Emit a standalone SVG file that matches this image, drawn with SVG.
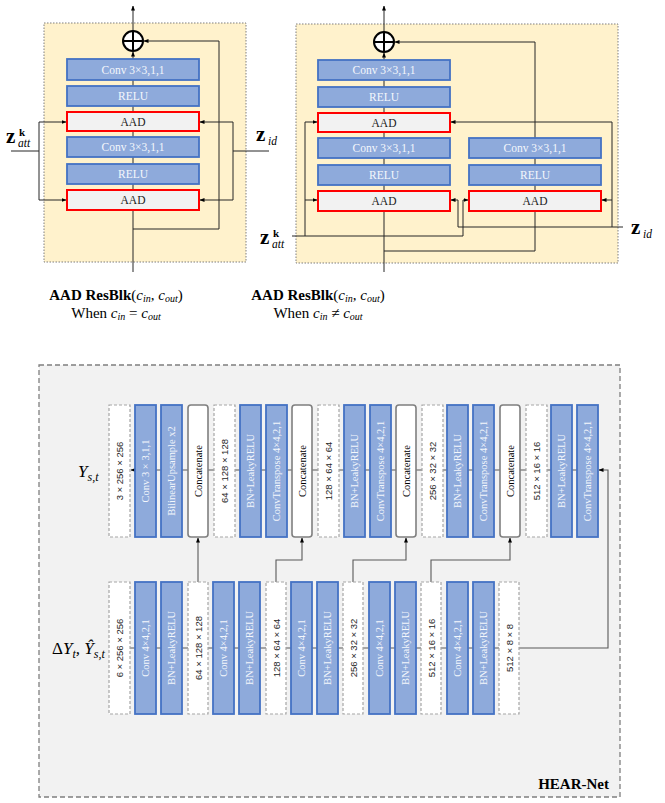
<svg xmlns="http://www.w3.org/2000/svg" width="665" height="803" viewBox="0 0 665 803">
<defs>
<marker id="ah" viewBox="0 0 10 10" refX="9" refY="5" markerWidth="5" markerHeight="5" markerUnits="userSpaceOnUse" orient="auto"><path d="M0,1 L10,5 L0,9 Z" fill="#000"/></marker>
<style>
.yb{fill:#fff2cc;stroke:#7f7f7f;stroke-width:1;stroke-dasharray:1.5,1.5}
.bl{fill:#8eaadb;stroke:#4472c4;stroke-width:1.8}
.aad{fill:#f2f2f2;stroke:#ff0000;stroke-width:2}
.ln{fill:none;stroke:#262626;stroke-width:1}
.lg{fill:none;stroke:#595959;stroke-width:1.1}
.arr{marker-end:url(#ah)}
.tw{font-family:"Liberation Serif",serif;font-size:11.5px;fill:#f4f7fc;text-anchor:middle;dominant-baseline:central}
.tk{font-family:"Liberation Serif",serif;font-size:11.5px;fill:#1a1a1a;text-anchor:middle;dominant-baseline:central}
.dm{font-family:"Liberation Sans",sans-serif;font-size:9.5px;fill:#262626;text-anchor:middle;dominant-baseline:central}
.vw{font-family:"Liberation Serif",serif;font-size:10.5px;fill:#f4f7fc;text-anchor:middle;dominant-baseline:central}
.vk{font-family:"Liberation Serif",serif;font-size:10.5px;fill:#000;text-anchor:middle;dominant-baseline:central}
.ds{fill:#fff;stroke:#a6a6a6;stroke-width:1.2;stroke-dasharray:3,2}
.cc{fill:#fff;stroke:#7f7f7f;stroke-width:1.6}
.cap{font-family:"Liberation Serif",serif;font-size:15px;fill:#000}
.it{font-style:italic}
.zb{font-family:"Liberation Serif",serif;font-weight:bold;fill:#000}
.mi{font-family:"Liberation Serif",serif;font-style:italic;fill:#000}
</style>
</defs>

<!-- ===== Top-left block ===== -->
<g id="blockA">
<rect class="yb" x="44" y="23" width="202" height="239"/>
</g>
<g id="connectorsA">
<path class="ln arr" d="M133,272 L133,52"/>
<path class="ln arr" d="M133,31 L133,6"/>
<path class="ln arr" d="M133,229 L219,229 L219,41 L144,41"/>
<path class="ln" d="M11,151 L39,151 M39,122 L39,200"/>
<path class="ln arr" d="M39,122 L66,122"/>
<path class="ln arr" d="M39,200 L66,200"/>
<path class="ln" d="M269,151 L233,151 M233,122 L233,200"/>
<path class="ln arr" d="M233,122 L200,122"/>
<path class="ln arr" d="M233,200 L200,200"/>
</g>
<g id="sumA">
<circle cx="133" cy="41" r="10" fill="#fff" stroke="#000" stroke-width="2"/>
<path d="M123,41 L143,41 M133,31 L133,51" stroke="#000" stroke-width="2"/>
</g>
<g id="A_conv1"><rect class="bl" x="67" y="59" width="132" height="21"/><text class="tw" x="133" y="70">Conv 3×3,1,1</text></g>
<g id="A_relu1"><rect class="bl" x="67" y="86" width="132" height="20"/><text class="tw" x="133" y="96">RELU</text></g>
<g id="A_aad1"><rect class="aad" x="67" y="112" width="132" height="19"/><text class="tk" x="133" y="122">AAD</text></g>
<g id="A_conv2"><rect class="bl" x="67" y="137" width="132" height="20"/><text class="tw" x="133" y="147">Conv 3×3,1,1</text></g>
<g id="A_relu2"><rect class="bl" x="67" y="164" width="132" height="20"/><text class="tw" x="133" y="174">RELU</text></g>
<g id="A_aad2"><rect class="aad" x="67" y="190" width="132" height="20"/><text class="tk" x="133" y="200">AAD</text></g>
<g id="A_labels">
<text class="zb" x="6" y="143" font-size="21">z</text>
<text class="zb" x="19" y="136" font-size="11">k</text>
<text class="mi" x="18" y="147" font-size="11.5">att</text>
<text class="zb" x="256" y="141" font-size="21">z</text>
<text class="mi" x="268" y="145" font-size="11.5">id</text>
</g>
<g id="captionA">
<text class="cap" x="116" y="300" text-anchor="middle"><tspan font-weight="bold">AAD ResBlk</tspan>(<tspan class="it">c</tspan><tspan class="it" font-size="10" dy="2">in</tspan><tspan dy="-2">, </tspan><tspan class="it">c</tspan><tspan class="it" font-size="10" dy="2">out</tspan><tspan dy="-2">)</tspan></text>
<text class="cap" x="116" y="318" text-anchor="middle">When <tspan class="it">c</tspan><tspan class="it" font-size="10" dy="2">in</tspan><tspan dy="-2"> = </tspan><tspan class="it">c</tspan><tspan class="it" font-size="10" dy="2">out</tspan></text>
</g>

<!-- ===== Top-right block ===== -->
<g id="blockB">
<rect class="yb" x="296" y="24" width="322" height="239"/>
</g>
<g id="connectorsB">
<path class="ln arr" d="M384,272 L384,53"/>
<path class="ln arr" d="M384,32 L384,6"/>
<path class="ln arr" d="M384,251 L535,251 L535,42 L395,42"/>
<path class="ln" d="M292,236 L463,236 L463,200 M305,236 L305,122"/>
<path class="ln arr" d="M305,122 L317,122"/>
<path class="ln arr" d="M305,200 L317,200"/>
<path class="ln arr" d="M463,200 L468,200"/>
<path class="ln" d="M623,227 L458,227 L458,200 M612,227 L612,122"/>
<path class="ln arr" d="M458,200 L451,200"/>
<path class="ln arr" d="M612,122 L451,122"/>
<path class="ln arr" d="M612,200 L602,200"/>
</g>
<g id="sumB">
<circle cx="384" cy="42" r="10" fill="#fff" stroke="#000" stroke-width="2"/>
<path d="M374,42 L394,42 M384,32 L384,52" stroke="#000" stroke-width="2"/>
</g>
<g id="B_conv1"><rect class="bl" x="318" y="60" width="132" height="20"/><text class="tw" x="384" y="70">Conv 3×3,1,1</text></g>
<g id="B_relu1"><rect class="bl" x="318" y="87" width="132" height="20"/><text class="tw" x="384" y="97">RELU</text></g>
<g id="B_aad1"><rect class="aad" x="318" y="113" width="132" height="19"/><text class="tk" x="384" y="123">AAD</text></g>
<g id="B_conv2"><rect class="bl" x="318" y="138" width="132" height="20"/><text class="tw" x="384" y="148">Conv 3×3,1,1</text></g>
<g id="B_relu2"><rect class="bl" x="318" y="165" width="132" height="20"/><text class="tw" x="384" y="175">RELU</text></g>
<g id="B_aad2"><rect class="aad" x="318" y="191" width="132" height="20"/><text class="tk" x="384" y="201">AAD</text></g>
<g id="B_conv3"><rect class="bl" x="469" y="138" width="132" height="20"/><text class="tw" x="535" y="148">Conv 3×3,1,1</text></g>
<g id="B_relu3"><rect class="bl" x="469" y="165" width="132" height="20"/><text class="tw" x="535" y="175">RELU</text></g>
<g id="B_aad3"><rect class="aad" x="469" y="191" width="132" height="20"/><text class="tk" x="535" y="201">AAD</text></g>
<g id="B_labels">
<text class="zb" x="260" y="244" font-size="21">z</text>
<text class="zb" x="273" y="237" font-size="11">k</text>
<text class="mi" x="272" y="248" font-size="11.5">att</text>
<text class="zb" x="631" y="234" font-size="21">z</text>
<text class="mi" x="643" y="238" font-size="11.5">id</text>
</g>
<g id="captionB">
<text class="cap" x="318" y="300" text-anchor="middle"><tspan font-weight="bold">AAD ResBlk</tspan>(<tspan class="it">c</tspan><tspan class="it" font-size="10" dy="2">in</tspan><tspan dy="-2">, </tspan><tspan class="it">c</tspan><tspan class="it" font-size="10" dy="2">out</tspan><tspan dy="-2">)</tspan></text>
<text class="cap" x="318" y="318" text-anchor="middle">When <tspan class="it">c</tspan><tspan class="it" font-size="10" dy="2">in</tspan><tspan dy="-2"> ≠ </tspan><tspan class="it">c</tspan><tspan class="it" font-size="10" dy="2">out</tspan></text>
</g>

<!-- ===== HEAR-Net ===== -->
<g id="hearnet_panel">
<rect x="39" y="365" width="581" height="432" fill="#f2f2f2" stroke="#7f7f7f" stroke-width="1.3" stroke-dasharray="5,3"/>
<text x="609" y="789" font-family="Liberation Serif, serif" font-weight="bold" font-size="15" text-anchor="end" fill="#000">HEAR-Net</text>
</g>
<g id="connectorsC">
<path class="lg arr" d="M577,470 L131,470"/>
<path class="lg arr" d="M519,648 L608,648 L608,470 L599,470"/>
<path class="lg" d="M130,648 L499,648"/>
<path class="lg arr" d="M198,582 L198,538"/>
<path class="lg arr" d="M276,582 L276,560 L302,560 L302,538"/>
<path class="lg arr" d="M353,582 L353,560 L406,560 L406,538"/>
<path class="lg arr" d="M431,582 L431,560 L510,560 L510,538"/>
</g>
<g id="labelsC">
<text class="mi" x="78" y="477" font-size="17">Y<tspan font-size="12" dy="4">s,t</tspan></text>
<text class="mi" x="52" y="654" font-size="17"><tspan font-style="normal">Δ</tspan>Y<tspan font-size="12" dy="4">t</tspan><tspan dy="-4">, Ŷ</tspan><tspan font-size="12" dy="4">s,t</tspan></text>
</g>

<!-- top row -->
<g id="u0"><rect class="ds" x="109" y="405" width="21" height="132"/><text class="dm" transform="rotate(-90 119.5 471)" x="119.5" y="471">3 × 256 × 256</text></g>
<g id="u1"><rect class="bl" x="135" y="405" width="21" height="132"/><text class="vw" transform="rotate(-90 145.5 471)" x="145.5" y="471">Conv 3 × 3,1,1</text></g>
<g id="u2"><rect class="bl" x="161" y="405" width="21" height="132"/><text class="vw" transform="rotate(-90 171.5 471)" x="171.5" y="471">BilinearUpsample x2</text></g>
<g id="u3"><rect class="cc" x="188" y="405" width="20" height="132" rx="3"/><text class="vk" transform="rotate(-90 198 471)" x="198" y="471">Concatenate</text></g>
<g id="u4"><rect class="ds" x="214" y="405" width="21" height="132"/><text class="dm" transform="rotate(-90 224.5 471)" x="224.5" y="471">64 × 128 × 128</text></g>
<g id="u5"><rect class="bl" x="240" y="405" width="21" height="132"/><text class="vw" transform="rotate(-90 250.5 471)" x="250.5" y="471">BN+LeakyRELU</text></g>
<g id="u6"><rect class="bl" x="266" y="405" width="21" height="132"/><text class="vw" transform="rotate(-90 276.5 471)" x="276.5" y="471">ConvTranspose 4×4,2,1</text></g>
<g id="u7"><rect class="cc" x="292" y="405" width="20" height="132" rx="3"/><text class="vk" transform="rotate(-90 302 471)" x="302" y="471">Concatenate</text></g>
<g id="u8"><rect class="ds" x="318" y="405" width="21" height="132"/><text class="dm" transform="rotate(-90 328.5 471)" x="328.5" y="471">128 × 64 × 64</text></g>
<g id="u9"><rect class="bl" x="344" y="405" width="21" height="132"/><text class="vw" transform="rotate(-90 354.5 471)" x="354.5" y="471">BN+LeakyRELU</text></g>
<g id="u10"><rect class="bl" x="370" y="405" width="21" height="132"/><text class="vw" transform="rotate(-90 380.5 471)" x="380.5" y="471">ConvTranspose 4×4,2,1</text></g>
<g id="u11"><rect class="cc" x="396" y="405" width="20" height="132" rx="3"/><text class="vk" transform="rotate(-90 406 471)" x="406" y="471">Concatenate</text></g>
<g id="u12"><rect class="ds" x="422" y="405" width="21" height="132"/><text class="dm" transform="rotate(-90 432.5 471)" x="432.5" y="471">256 × 32 × 32</text></g>
<g id="u13"><rect class="bl" x="447" y="405" width="21" height="132"/><text class="vw" transform="rotate(-90 457.5 471)" x="457.5" y="471">BN+LeakyRELU</text></g>
<g id="u14"><rect class="bl" x="473" y="405" width="21" height="132"/><text class="vw" transform="rotate(-90 483.5 471)" x="483.5" y="471">ConvTranspose 4×4,2,1</text></g>
<g id="u15"><rect class="cc" x="500" y="405" width="20" height="132" rx="3"/><text class="vk" transform="rotate(-90 510 471)" x="510" y="471">Concatenate</text></g>
<g id="u16"><rect class="ds" x="526" y="405" width="21" height="132"/><text class="dm" transform="rotate(-90 536.5 471)" x="536.5" y="471">512 × 16 × 16</text></g>
<g id="u17"><rect class="bl" x="551" y="405" width="21" height="132"/><text class="vw" transform="rotate(-90 561.5 471)" x="561.5" y="471">BN+LeakyRELU</text></g>
<g id="u18"><rect class="bl" x="577" y="405" width="21" height="132"/><text class="vw" transform="rotate(-90 587.5 471)" x="587.5" y="471">ConvTranspose 4×4,2,1</text></g>

<!-- bottom row -->
<g id="d0"><rect class="ds" x="109" y="582" width="21" height="132"/><text class="dm" transform="rotate(-90 119.5 648)" x="119.5" y="648">6 × 256 × 256</text></g>
<g id="d1"><rect class="bl" x="135" y="582" width="21" height="132"/><text class="vw" transform="rotate(-90 145.5 648)" x="145.5" y="648">Conv 4×4,2,1</text></g>
<g id="d2"><rect class="bl" x="161" y="582" width="21" height="132"/><text class="vw" transform="rotate(-90 171.5 648)" x="171.5" y="648">BN+LeakyRELU</text></g>
<g id="d3"><rect class="ds" x="188" y="582" width="20" height="132"/><text class="dm" transform="rotate(-90 198 648)" x="198" y="648">64 × 128 × 128</text></g>
<g id="d4"><rect class="bl" x="213" y="582" width="21" height="132"/><text class="vw" transform="rotate(-90 223.5 648)" x="223.5" y="648">Conv 4×4,2,1</text></g>
<g id="d5"><rect class="bl" x="239" y="582" width="21" height="132"/><text class="vw" transform="rotate(-90 249.5 648)" x="249.5" y="648">BN+LeakyRELU</text></g>
<g id="d6"><rect class="ds" x="266" y="582" width="20" height="132"/><text class="dm" transform="rotate(-90 276 648)" x="276" y="648">128 × 64 × 64</text></g>
<g id="d7"><rect class="bl" x="291" y="582" width="21" height="132"/><text class="vw" transform="rotate(-90 301.5 648)" x="301.5" y="648">Conv 4×4,2,1</text></g>
<g id="d8"><rect class="bl" x="317" y="582" width="21" height="132"/><text class="vw" transform="rotate(-90 327.5 648)" x="327.5" y="648">BN+LeakyRELU</text></g>
<g id="d9"><rect class="ds" x="343" y="582" width="20" height="132"/><text class="dm" transform="rotate(-90 353 648)" x="353" y="648">256 × 32 × 32</text></g>
<g id="d10"><rect class="bl" x="369" y="582" width="21" height="132"/><text class="vw" transform="rotate(-90 379.5 648)" x="379.5" y="648">Conv 4×4,2,1</text></g>
<g id="d11"><rect class="bl" x="395" y="582" width="21" height="132"/><text class="vw" transform="rotate(-90 405.5 648)" x="405.5" y="648">BN+LeakyRELU</text></g>
<g id="d12"><rect class="ds" x="421" y="582" width="20" height="132"/><text class="dm" transform="rotate(-90 431 648)" x="431" y="648">512 × 16 × 16</text></g>
<g id="d13"><rect class="bl" x="447" y="582" width="21" height="132"/><text class="vw" transform="rotate(-90 457.5 648)" x="457.5" y="648">Conv 4×4,2,1</text></g>
<g id="d14"><rect class="bl" x="473" y="582" width="21" height="132"/><text class="vw" transform="rotate(-90 483.5 648)" x="483.5" y="648">BN+LeakyRELU</text></g>
<g id="d15"><rect class="ds" x="499" y="582" width="20" height="132"/><text class="dm" transform="rotate(-90 509 648)" x="509" y="648">512 × 8 × 8</text></g>
</svg>
